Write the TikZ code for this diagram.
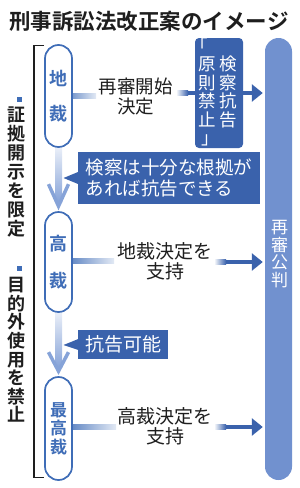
\documentclass[tikz,border=0pt]{standalone}
\usepackage{fontspec}
\setmainfont{Noto Sans CJK JP}[BoldFont={Noto Sans CJK JP Bold}]
\usetikzlibrary{arrows.meta,calc}
\definecolor{dblue}{HTML}{3A62AC}
\definecolor{pblue}{HTML}{3F6DB7}
\definecolor{colblue}{HTML}{7191CF}
\definecolor{lblue}{HTML}{86A3D8}
\definecolor{txt}{HTML}{1E1E1E}
\begin{document}
\begin{tikzpicture}[x=1pt,y=-1pt,
  court/.style={draw=pblue, line width=1.7pt, fill=white, rounded corners=13.5pt,
    minimum width=27pt, inner sep=0pt, text=pblue, align=center},
  body/.style={inner sep=0pt, align=center, text=txt, font=\fontsize{18.5}{20.5}\selectfont},
  side/.style={inner sep=0pt, align=center, text=txt, font=\bfseries\fontsize{18}{19}\selectfont},
  sq/.style={fill=pblue, minimum size=5pt, inner sep=0pt},
  callout/.style={fill=dblue, text=white, inner ysep=0pt, align=left},
  harrow/.style={draw=dblue, line width=4.5pt, -{Triangle[length=11pt,width=17pt]}},
  stub/.style={left color=pblue, right color=pblue!15},
  chev/.style={draw=lblue, line width=3.5pt, line join=miter},
]
\path[use as bounding box] (0,0) rectangle (300,488);

% title
\node[inner sep=0pt, text=txt, font=\bfseries\fontsize{21.5}{24}\selectfont] (title) at (149,21) {刑事訴訟法改正案のイメージ};

% left bracket and side notes
\draw[line width=1.3pt, txt] (44,45.5) -- (34,45.5) -- (34,477.5) -- (44,477.5);
\node[sq] (q1) at (19.5,99.5) {};
\node[side] (s1) at (17,172) {証\\拠\\開\\示\\を\\限\\定};
\node[sq] (q2) at (19.5,268.5) {};
\node[side, font=\bfseries\fontsize{18}{18.6}\selectfont] (s2) at (17,350) {目\\的\\外\\使\\用\\を\\禁\\止};

% pillar
\node[fill=colblue, rounded corners=13.5pt, minimum width=27pt, minimum height=442pt, inner sep=0pt] (col) at (278.5,259) {};
\node[inner sep=0pt, align=center, text=white, font=\fontsize{17}{17.4}\selectfont] (colt) at (279.5,254) {再\\審\\公\\判};

% stubs (drawn before courts)
\coordinate (e1) at (96,96);
\coordinate (e2) at (114,261);
\coordinate (e3) at (116,427);
\coordinate (c1p) at (58.5,96);
\coordinate (c2p) at (58.5,262);
\coordinate (c3p) at (58.5,428.5);
\shade[stub] ($(c1p |- e1)+(0,-2.3)$) rectangle ($(e1)+(0,2.3)$);
\shade[stub] ($(c2p |- e2)+(0,-2.3)$) rectangle ($(e2)+(0,2.3)$);
\shade[stub] ($(c3p |- e3)+(0,-2.3)$) rectangle ($(e3)+(0,2.3)$);

% courts
\node[court, minimum height=102pt, font=\bfseries\fontsize{18}{35}\selectfont] (chisai) at (c1p) {地\\裁};
\node[court, minimum height=100pt, font=\bfseries\fontsize{18}{37}\selectfont] (kousai) at (c2p) {高\\裁};
\node[court, minimum height=103pt, font=\bfseries\fontsize{17}{18.5}\selectfont] (saikou) at (c3p) {最\\高\\裁};

% vertical arrows
\shade[top color=lblue!20, bottom color=lblue] ($(chisai.south)+(-3.5,1)$) rectangle ($(kousai.north)+(3.5,-9)$);
\draw[chev] ($(kousai.north)+(-10,-27)$) -- ($(kousai.north)+(0,-5)$) -- ($(kousai.north)+(10,-27)$);
\shade[top color=lblue!20, bottom color=lblue] ($(kousai.south)+(-3.5,1)$) rectangle ($(saikou.north)+(3.5,-9)$);
\draw[chev] ($(saikou.north)+(-10,-24)$) -- ($(saikou.north)+(0,-5)$) -- ($(saikou.north)+(10,-24)$);

% decision texts
\node[body] (t1) at (135.5,96.5) {再審開始\\決定};
\node[body, font=\fontsize{19}{20}\selectfont] (t2) at (165,261.5) {地裁決定を\\支持};
\node[body, font=\fontsize{19}{20}\selectfont] (t3) at (165,426) {高裁決定を\\支持};

% horizontal arrows
\coordinate (a1) at (176,93);
\coordinate (a2) at (214,262);
\coordinate (a3) at (214,427);
\shade[left color=white, right color=dblue] ($(a1)+(0,-2.25)$) rectangle ($(a1)+(12,2.25)$);
\draw[harrow, shorten >=2pt] ($(a1)+(12,0)$) -- (a1 -| col.west);
\shade[left color=white, right color=dblue] ($(a2)+(0,-2.25)$) rectangle ($(a2)+(12,2.25)$);
\draw[harrow, shorten >=2pt] ($(a2)+(12,0)$) -- (a2 -| col.west);
\shade[left color=white, right color=dblue] ($(a3)+(0,-2.25)$) rectangle ($(a3)+(12,2.25)$);
\draw[harrow, shorten >=2pt] ($(a3)+(12,0)$) -- (a3 -| col.west);

% prosecution appeal box
\node[fill=dblue, rounded corners=4pt, minimum width=48pt, minimum height=110pt, inner sep=0pt] (kb) at (219,93) {};
\node[inner sep=0pt, align=center, text=white, font=\fontsize{17.5}{18.5}\selectfont] (kb1) at (228.5,92) {検\\察\\抗\\告};
\node[inner sep=0pt, align=center, text=white, font=\fontsize{17.5}{18.5}\selectfont] (kb2) at (207,92) {\hbox to 17.5pt{\kern-8pt 「\hss}\\原\\則\\禁\\止\\\hbox to 17.5pt{\kern3pt 」\hss}};

% callouts
\node[callout, inner xsep=8pt, minimum height=52pt, font=\fontsize{18.5}{20.5}\selectfont] (cl1) at (169,178) {検察は十分な根拠が\\あれば抗告できる};
\coordinate (p1) at (63.5,178);
\fill[dblue] ($(cl1.west)+(0.5,-6)$) -- (p1) -- ($(cl1.west)+(0.5,6)$) -- cycle;
\node[callout, inner xsep=7pt, minimum height=29pt, font=\fontsize{19}{20}\selectfont] (cl2) at (123,344.5) {抗告可能};
\coordinate (p2) at (63.5,345);
\fill[dblue] ($(cl2.west)+(0.5,-5.5)$) -- (p2) -- ($(cl2.west)+(0.5,5.5)$) -- cycle;
\end{tikzpicture}
\end{document}
